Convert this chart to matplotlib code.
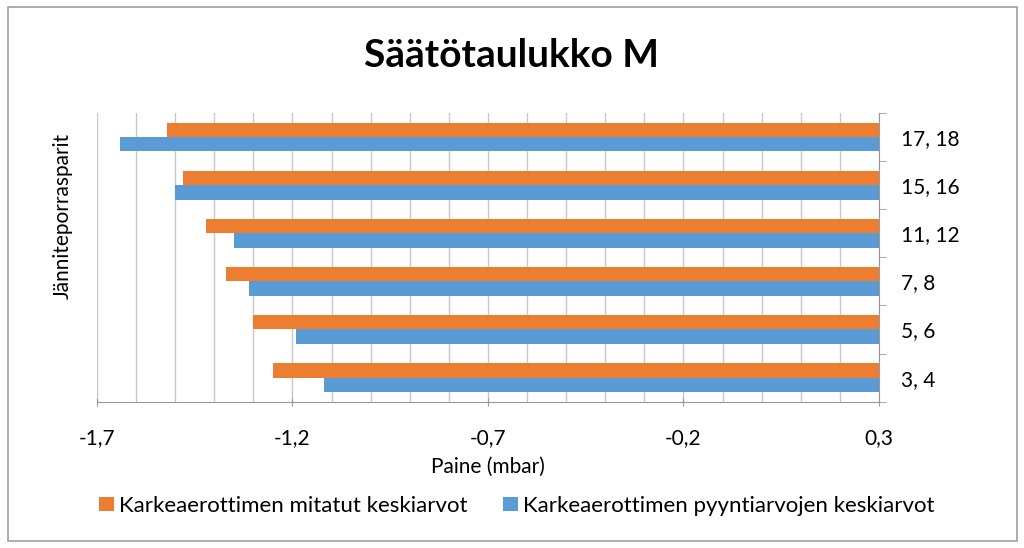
import numpy as np
import matplotlib
matplotlib.use('Agg')
import matplotlib.pyplot as plt
from matplotlib.patches import Rectangle
from matplotlib.ticker import MultipleLocator, FixedLocator

plt.rcParams['font.family'] = ['Lato', 'DejaVu Sans']

categories = ['3, 4', '5, 6', '7, 8', '11, 12', '15, 16', '17, 18']
measured = [-1.25, -1.30, -1.37, -1.42, -1.48, -1.52]   # orange
requested = [-1.12, -1.19, -1.31, -1.35, -1.50, -1.64]  # blue
series_names = ['Karkeaerottimen mitatut keskiarvot',
                'Karkeaerottimen pyyntiarvojen keskiarvot']
xticks = [-1.7, -1.2, -0.7, -0.2, 0.3]
base = 0.3  # bars grow from the axis crossing at the right edge

orange = '#ED7D31'
blue = '#5B9BD5'

fig = plt.figure(figsize=(10.24, 5.48), dpi=100)
ax = fig.add_axes([0.0947, 0.267, 0.7636, 0.527])

y = np.arange(len(categories))
h = 0.3
ax.barh(y + h / 2, np.array(measured) - base, height=h, left=base,
        color=orange, label=series_names[0], zorder=3)
ax.barh(y - h / 2, np.array(requested) - base, height=h, left=base,
        color=blue, label=series_names[1], zorder=3)

ax.set_xlim(-1.7, 0.3)
ax.set_ylim(-0.5, len(categories) - 0.5)
ax.xaxis.set_major_locator(FixedLocator(xticks))
ax.set_xticklabels([f'{v:.1f}'.replace('.', ',') for v in xticks], fontsize=15)
ax.xaxis.set_minor_locator(MultipleLocator(0.1))
ax.grid(True, which='both', axis='x', color='#c8c8c8', linewidth=1, zorder=0)
ax.tick_params(axis='x', which='major', length=6, direction='inout',
               color='#999999', pad=16)
ax.tick_params(axis='x', which='minor', length=0)

ax.yaxis.tick_right()
ax.set_yticks(y)
ax.set_yticklabels(categories, fontsize=15)
ax.yaxis.set_minor_locator(FixedLocator(np.arange(-0.5, len(categories), 1)))
ax.tick_params(axis='y', which='major', length=0, pad=16)
ax.tick_params(axis='y', which='minor', length=5, color='#999999')

for side in ['top', 'left']:
    ax.spines[side].set_visible(False)
for side in ['bottom', 'right']:
    ax.spines[side].set_color('#999999')

ax.set_xlabel('Paine (mbar)', fontsize=15, labelpad=6)
fig.text(0.061, 0.606, 'Jänniteporrasparit', rotation=90, fontsize=15,
         ha='center', va='center')

fig.suptitle('Säätötaulukko M', fontsize=28, fontweight='bold', y=0.93)

fig.legend(loc='center', bbox_to_anchor=(0.505, 0.077), ncol=2, frameon=False,
           fontsize=16, handlelength=0.65, handleheight=0.65, handletextpad=0.25,
           columnspacing=1.6)

fig.patches.append(Rectangle((0.008, 0.013), 0.985, 0.974, transform=fig.transFigure,
                             fill=False, edgecolor='#a0a0a0', linewidth=1.2))

fig.savefig('out.png', dpi=100, facecolor='white')
